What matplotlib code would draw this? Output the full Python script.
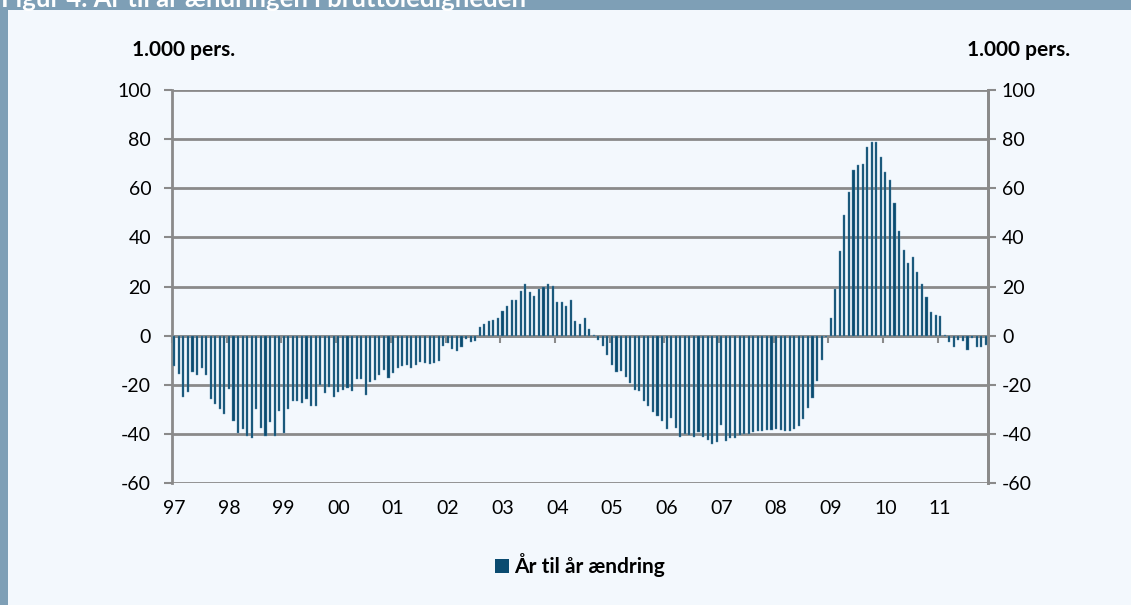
import matplotlib
matplotlib.use("Agg")
import matplotlib.pyplot as plt
from matplotlib.patches import Rectangle
import numpy as np

# ---- data (thousand persons, monthly, Jan 1997 - Nov 2011) ----
vals_1997 = [-12.4, -15.5, -25.0, -23.0, -14.9, -16.0, -13.2, -16.1, -26.0, -28.0, -30.0, -32.0]
vals_1998 = [-21.7, -34.8, -39.8, -38.2, -41.0, -41.7, -29.7, -37.6, -41.0, -35.2, -41.0, -30.7]
vals_1999 = [-39.8, -30.0, -26.8, -26.5, -27.6, -25.6, -28.7, -28.6, -20.0, -23.5, -21.0, -24.9]
vals_2000 = [-23.0, -22.3, -21.5, -22.4, -17.5, -17.6, -24.3, -19.0, -18.2, -16.2, -13.9, -17.3]
vals_2001 = [-15.3, -13.1, -12.4, -12.0, -13.0, -12.0, -10.8, -11.3, -11.4, -11.3, -10.3, -4.2]
vals_2002 = [-3.0, -5.4, -6.2, -4.7, -1.3, -2.5, -2.0, 3.5, 4.9, 6.0, 6.5, 7.2]
vals_2003 = [10.0, 12.2, 14.6, 14.4, 18.3, 21.2, 17.9, 16.1, 19.0, 20.0, 21.0, 20.3]
vals_2004 = [13.8, 13.8, 12.0, 14.5, 5.9, 4.7, 7.3, 2.6, 0.3, -1.8, -4.4, -8.0]
vals_2005 = [-12.0, -14.7, -14.4, -17.0, -19.4, -22.3, -22.7, -26.5, -28.6, -31.1, -32.9, -34.8]
vals_2006 = [-37.9, -33.4, -37.6, -41.1, -40.2, -40.4, -41.1, -39.4, -41.2, -42.5, -44.1, -43.3]
vals_2007 = [-36.2, -42.8, -41.8, -41.7, -40.3, -40.1, -40.0, -39.4, -38.9, -38.7, -38.6, -38.4]
vals_2008 = [-38.2, -38.5, -38.8, -38.8, -38.0, -36.6, -33.8, -29.6, -25.2, -18.4, -9.9, -0.4]
vals_2009 = [7.1, 18.9, 34.3, 49.2, 58.5, 67.3, 69.3, 69.8, 76.6, 79.0, 78.7, 72.9]
vals_2010 = [66.7, 63.4, 54.0, 42.5, 34.9, 29.6, 32.2, 26.1, 20.9, 15.7, 9.8, 8.3]
vals_2011 = [7.8, 0.3, -2.7, -4.5, -1.6, -2.3, -5.9, -1.0, -4.8, -4.8, -3.7]

values = (vals_1997 + vals_1998 + vals_1999 + vals_2000 + vals_2001 + vals_2002 +
          vals_2003 + vals_2004 + vals_2005 + vals_2006 + vals_2007 + vals_2008 +
          vals_2009 + vals_2010 + vals_2011)
year_labels = ["97", "98", "99", "00", "01", "02", "03", "04", "05", "06",
               "07", "08", "09", "10", "11"]
y_ticks = [-60, -40, -20, 0, 20, 40, 60, 80, 100]
series_name = "År til år ændring"
unit_label = "1.000 pers."
title = "Figur 4. År til år ændringen i bruttoledigheden"

# ---- style ----
BG = "#F3F8FD"
FRAME = "#7E9FB6"
BAR = "#0A4B70"
GRID = "#8A8A8A"
FONT = ["Lato", "DejaVu Sans"]
plt.rcParams["font.family"] = FONT
TICK_SIZE = 14

W, H = 1131, 605
fig = plt.figure(figsize=(W / 100, H / 100), dpi=100, facecolor=BG)

# frame: top band and left strip
fig.patches.append(Rectangle((0, 1 - 10 / H), 1, 10 / H, transform=fig.transFigure,
                             facecolor=FRAME, edgecolor="none", zorder=0))
fig.patches.append(Rectangle((0, 0), 8 / W, 1, transform=fig.transFigure,
                             facecolor=FRAME, edgecolor="none", zorder=0))
fig.text(1 / W, 1 + 3 / H, title, color="white", fontsize=18.5, fontweight="bold",
         va="center", ha="left")

left, right, top, bottom = 172, 988, 90, 483
ax = fig.add_axes([left / W, 1 - bottom / H, (right - left) / W, (bottom - top) / H])
ax.set_facecolor("none")

x = np.arange(len(values))
ax.bar(x, values, width=0.46, color=BAR, edgecolor="#5E8FAE", linewidth=0.3, zorder=3)

ax.set_xlim(-0.5, 179 - 0.5)
ax.set_ylim(-60, 100)
ax.set_yticks(y_ticks)
ax.set_yticklabels([str(v) for v in y_ticks])
ax.yaxis.grid(True, color=GRID, linewidth=2, zorder=1)
ax.set_axisbelow(True)
for s in ["top", "bottom"]:
    ax.spines[s].set_visible(False)
for s in ["left", "right"]:
    ax.spines[s].set_color(GRID)
    ax.spines[s].set_linewidth(2)
ax.tick_params(axis="y", left=True, right=False, labelleft=True, labelright=False,
               length=6, width=1.5, color=GRID, labelsize=TICK_SIZE,
               labelcolor="black", pad=9)

year_starts = np.arange(len(year_labels)) * 12 - 0.5
ax.set_xticks(year_starts + 0.5)
ax.set_xticklabels(year_labels)
ax.tick_params(axis="x", length=0, labelsize=TICK_SIZE, pad=12)

# right-side labels sit closer to the axis than the left ones
right_ax = ax.secondary_yaxis("right")
right_ax.set_yticks(y_ticks)
right_ax.set_yticklabels([str(v) for v in y_ticks])
right_ax.tick_params(axis="y", length=6, width=1.5, color=GRID, labelsize=TICK_SIZE, pad=4)
right_ax.spines["right"].set_color(GRID)
right_ax.spines["right"].set_linewidth(2)

# zero axis with year tick marks
zero_pos = (0 - (-60)) / (100 - (-60))
sec = ax.secondary_xaxis(zero_pos)
sec.set_xticks(year_starts)
sec.set_xticklabels([])
sec.tick_params(axis="x", direction="out", length=5, width=1.5, color=GRID)
sec.spines["bottom"].set_color(GRID)
sec.spines["bottom"].set_linewidth(2)
sec.spines["bottom"].set_zorder(4)

fig.text(132 / W, 1 - 50 / H, unit_label, fontsize=15, fontweight="bold", ha="left", va="center")
fig.text(1070 / W, 1 - 50 / H, unit_label, fontsize=15, fontweight="bold", ha="right", va="center")

handle = Rectangle((0, 0), 1, 1, facecolor=BAR, edgecolor="none")
leg = fig.legend([handle], [series_name], loc="center", bbox_to_anchor=(580 / W, 1 - 565 / H),
                 frameon=False, handlelength=0.65, handleheight=0.65, handletextpad=0.25,
                 prop={"weight": "bold", "size": 15, "family": FONT})

fig.savefig("out.png", dpi=100, facecolor=BG)
